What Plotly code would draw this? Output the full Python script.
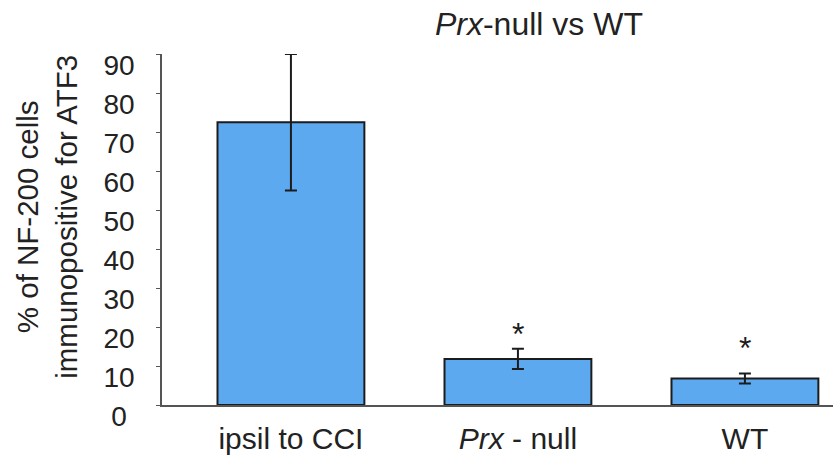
import plotly.graph_objects as go

# Group labels and measurements
categories = ["ipsil to CCI", "<i>Prx</i> - null", "WT"]
means = [72.5, 11.8, 6.8]
errors = [17.5, 2.6, 1.3]
sig_marks = ["", "*", "*"]
sig_heights = [None, 20.0, 16.5]
y_ticks = [0, 10, 20, 30, 40, 50, 60, 70, 80, 90]
# single-digit label padded so the tick labels sit centred in one column
y_tick_text = ["0\u2008"] + [str(v) for v in y_ticks[1:]]

FONT = "Liberation Sans, Arial, sans-serif"
INK = "#222222"
x = list(range(len(categories)))

fig = go.Figure()
fig.add_trace(go.Bar(
    x=x,
    y=means,
    width=0.647,
    marker=dict(color="#5ca9ef", line=dict(color="#1c1c1c", width=2)),
    error_y=dict(type="data", array=errors, visible=True,
                 color="#1c1c1c", thickness=2, width=6),
    cliponaxis=False,
    showlegend=False,
))

for xi, mark, h in zip(x, sig_marks, sig_heights):
    if mark:
        fig.add_annotation(x=xi, y=h, text=mark, showarrow=False,
                           font=dict(family=FONT, size=32, color="#1c1c1c"),
                           yanchor="middle", yshift=-7)

# y-axis title as a rotated two-line annotation
fig.add_annotation(
    text="% of NF-200 cells<br>immunopositive for ATF3",
    xref="paper", yref="paper", x=-0.172, y=0.535,
    xanchor="center", yanchor="middle", textangle=-90, showarrow=False,
    font=dict(family=FONT, size=29.5, color=INK),
)

fig.update_layout(
    width=833, height=457,
    margin=dict(l=162, r=0, t=54, b=52),
    paper_bgcolor="white", plot_bgcolor="white",
    font=dict(family=FONT, color=INK),
    title=dict(text="<i>Prx</i>-null vs WT", x=0.647, xanchor="center",
               y=0.948, yanchor="middle",
               font=dict(family=FONT, size=32, color=INK)),
    xaxis=dict(
        tickmode="array", tickvals=x, ticktext=categories,
        range=[-0.568, 2.388],
        showline=True, linecolor="#555555", linewidth=1.5,
        ticks="", showgrid=False, zeroline=False,
        ticklabelstandoff=6,
        tickfont=dict(family=FONT, size=30, color=INK),
    ),
    yaxis=dict(
        range=[0, 90], tickvals=y_ticks, ticktext=y_tick_text,
        showline=True, linecolor="#555555", linewidth=1.5,
        ticks="outside", ticklen=4, tickcolor="#555555",
        showgrid=False, zeroline=False,
        ticklabelstandoff=16, ticklabelshift=11,
        tickfont=dict(family=FONT, size=28, color=INK),
    ),
)

fig.write_html("out.html")
